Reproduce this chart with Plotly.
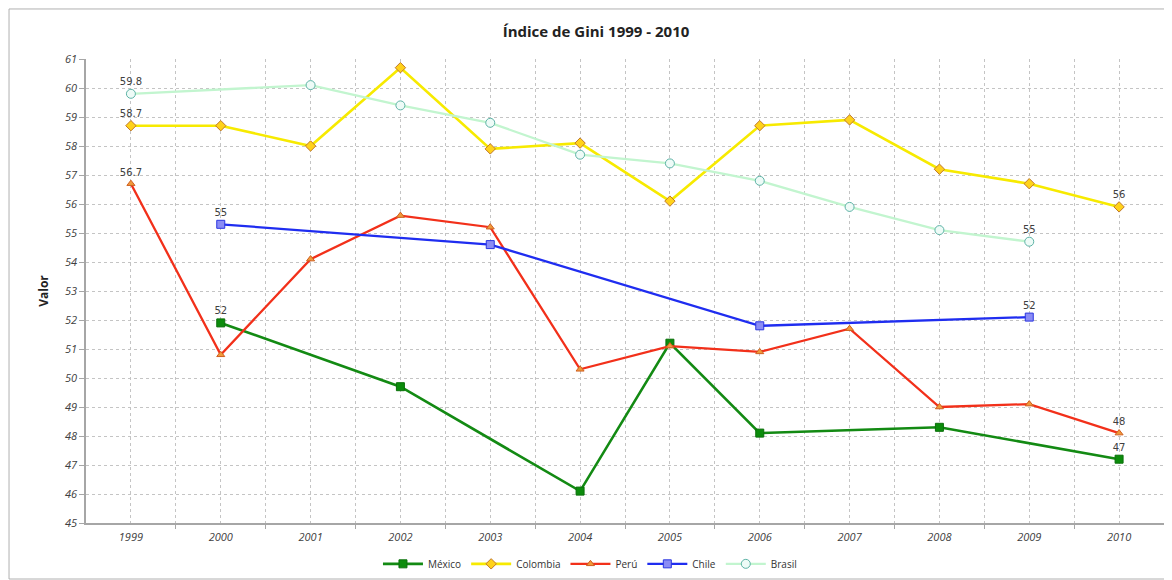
import plotly.graph_objects as go

years = [1999, 2000, 2001, 2002, 2003, 2004, 2005, 2006, 2007, 2008, 2009, 2010]

mexico   = [None, 51.9, None, 49.7, None, 46.1, 51.2, 48.1, None, 48.3, None, 47.2]
colombia = [58.7, 58.7, 58.0, 60.7, 57.9, 58.1, 56.1, 58.7, 58.9, 57.2, 56.7, 55.9]
peru     = [56.7, 50.8, 54.1, 55.6, 55.2, 50.3, 51.1, 50.9, 51.7, 49.0, 49.1, 48.1]
chile    = [None, 55.3, None, None, 54.6, None, None, 51.8, None, None, 52.1, None]
brasil   = [59.8, None, 60.1, 59.4, 58.8, 57.7, 57.4, 56.8, 55.9, 55.1, 54.7, None]

mexico_lbl   = ["", "52", "", "", "", "", "", "", "", "", "", "47"]
colombia_lbl = ["58.7", "", "", "", "", "", "", "", "", "", "", "56"]
peru_lbl     = ["56.7", "", "", "", "", "", "", "", "", "", "", "48"]
chile_lbl    = ["", "55", "", "", "", "", "", "", "", "", "52", ""]
brasil_lbl   = ["59.8", "", "", "", "", "", "", "", "", "", "55", ""]

lbl_font = dict(family="DejaVu Sans", size=10, color="#404040")

fig = go.Figure()

def add(name, vals, lbls, color, width, symbol, msize, mfill, mline):
    fig.add_trace(go.Scatter(
        x=years, y=vals, name=name, mode="lines+markers+text",
        text=lbls, textposition="top center", textfont=lbl_font,
        connectgaps=True,
        line=dict(color=color, width=width),
        marker=dict(symbol=symbol, size=msize, color=mfill,
                    line=dict(color=mline, width=1)),
    ))

add("México", mexico, mexico_lbl, "#138a13", 2.6, "square", 8, "#0c8c0c", "#0a700a")
add("Colombia", colombia, colombia_lbl, "#f7ea00", 2.6, "diamond", 8, "#ffd21a", "#c0782a")
add("Perú", peru, peru_lbl, "#f2301a", 2.3, "triangle-up", 7, "#f09a3a", "#d06020")
add("Chile", chile, chile_lbl, "#1f2df0", 2.3, "square", 8, "#8a8cf5", "#2a35e0")
add("Brasil", brasil, brasil_lbl, "#c2f5cf", 2.3, "circle", 9, "#eefbf7", "#5db3a6")

grid = dict(showgrid=True, gridcolor="#c4c4c4", griddash="dot", gridwidth=1)
tickfont = dict(family="Open Sans", size=11, color="#404040", style="italic")

fig.update_layout(
    width=1172, height=580,
    paper_bgcolor="white", plot_bgcolor="white",
    margin=dict(l=78, r=16, t=51, b=65, autoexpand=False),
    title=dict(text="<b>Índice de Gini 1999 - 2010</b>", x=0.5017, xanchor="center",
               y=0.959, yanchor="middle",
               font=dict(family="Open Sans", size=15, color="#222222")),
    xaxis=dict(range=[1998.5, 2010.5], tickmode="array", tickvals=years,
               ticks="", tickfont=tickfont, showline=True, linecolor="#a6a6a6",
               linewidth=1.5, zeroline=False, ticklabelstandoff=3, automargin=False,
               minor=dict(tickmode="array",
                          tickvals=[y + 0.5 for y in years],
                          ticks="outside", ticklen=4, tickcolor="#a6a6a6",
                          showgrid=True, gridcolor="#c4c4c4", griddash="dot"),
               **grid),
    yaxis=dict(range=[45, 61], dtick=1, tickfont=tickfont, ticks="outside",
               ticklen=5, tickcolor="#a6a6a6", showline=True, linecolor="#a6a6a6",
               linewidth=1.5, zeroline=False, automargin=False,
               title=dict(text="<b>Valor</b>", standoff=14,
                          font=dict(family="Open Sans", size=12, color="#222222")),
               **grid),
    legend=dict(orientation="h", x=0.4675, xanchor="center", y=-0.088, yanchor="middle",
                font=dict(family="Open Sans", size=10, color="#333333"),
                itemwidth=40, tracegroupgap=0),
    shapes=[dict(type="rect", xref="paper", yref="paper",
                 x0=-0.0714, x1=1.03, y0=-0.1207, y1=1.1078,
                 line=dict(color="#b0b0b0", width=1), fillcolor="rgba(0,0,0,0)",
                 layer="below")],
)

fig.write_html("out.html")
